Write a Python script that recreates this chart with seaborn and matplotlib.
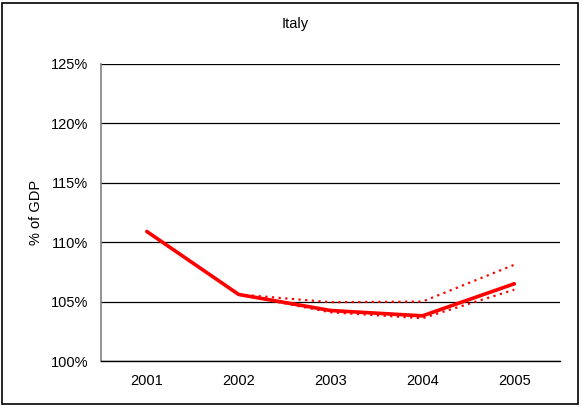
import matplotlib.pyplot as plt
import matplotlib.patches as patches
import pandas as pd
import seaborn as sns

years = ['2001', '2002', '2003', '2004', '2005']
baseline = [110.9, 105.6, 104.25, 103.8, 106.5]
upper = [None, 105.6, 104.95, 105.0, 108.1]
lower = [None, 105.6, 104.1, 103.6, 106.0]

sns.set_style('white')
plt.rcParams['font.family'] = ['Liberation Sans', 'DejaVu Sans']
plt.rcParams['text.color'] = 'black'
plt.rcParams['axes.labelcolor'] = 'black'
plt.rcParams['xtick.color'] = 'black'
plt.rcParams['ytick.color'] = 'black'

fig = plt.figure(figsize=(5.83, 4.07), dpi=100)
ax = fig.add_axes([0.173, 0.113, 0.788, 0.730])

x = list(range(len(years)))
df = pd.DataFrame({'x': x, 'base': baseline, 'up': upper, 'lo': lower})

sns.lineplot(data=df, x='x', y='up', ax=ax, color='red', linewidth=1.6,
             linestyle=(0, (1, 2)), zorder=3)
sns.lineplot(data=df, x='x', y='lo', ax=ax, color='red', linewidth=1.6,
             linestyle=(0, (1, 2)), zorder=3)
sns.lineplot(data=df, x='x', y='base', ax=ax, color='red', linewidth=2.6,
             zorder=4)

fs = 10.5
ax.set_xlim(-0.5, 4.5)
ax.set_ylim(100, 125)
ax.set_yticks([100, 105, 110, 115, 120, 125])
ax.set_yticklabels([f'{v}%' for v in range(100, 126, 5)])
ax.set_xticks([i - 0.5 for i in range(6)], minor=False)
ax.set_xticklabels([''] * 6)
ax.set_xticks(x, minor=True)
ax.set_xticklabels(years, minor=True)
ax.tick_params(axis='x', which='major', length=5, width=1, color='black', direction='out')
ax.tick_params(axis='x', which='minor', length=0, labelsize=fs, pad=9)
ax.tick_params(axis='y', length=5, width=1, color='black', direction='out',
               labelsize=fs, pad=4)
ax.yaxis.grid(True, color='black', linewidth=0.9)
ax.set_axisbelow(True)

for s in ['top', 'right']:
    ax.spines[s].set_visible(False)
ax.spines['left'].set_color('#808080')
ax.spines['left'].set_linewidth(1.2)
ax.spines['bottom'].set_color('black')
ax.spines['bottom'].set_linewidth(1)

ax.set_xlabel('')
ax.set_ylabel('% of GDP', fontsize=fs, labelpad=6)
fig.text(0.506, 0.942, 'Italy', ha='center', va='center', fontsize=fs)

fig.patches.append(patches.Rectangle((0.004, 0.007), 0.988, 0.985, transform=fig.transFigure,
                                     fill=False, edgecolor='black', linewidth=1.2))

fig.savefig('out.png', dpi=100)
